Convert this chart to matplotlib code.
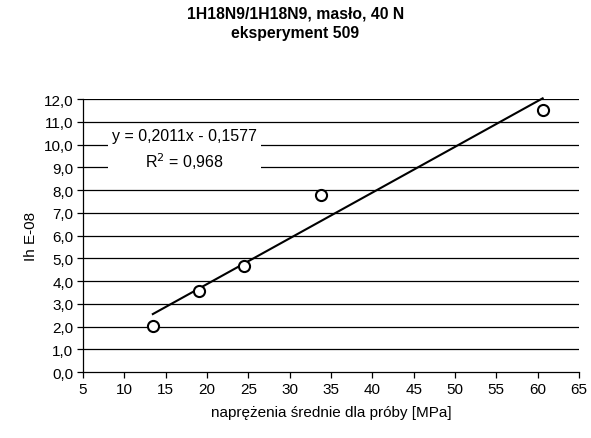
import numpy as np
import matplotlib
matplotlib.use("Agg")
import matplotlib.pyplot as plt

plt.rcParams['font.family'] = ['Liberation Sans', 'DejaVu Sans']

# dane pomiarowe
naprezenia = [13.45, 19.0, 24.5, 33.8, 60.6]
ih = [2.02, 3.56, 4.66, 7.78, 11.52]
a, b = 0.2011, -0.1577

xticks = list(range(5, 70, 5))
yticks = list(range(0, 13))
ytick_labels = ["%d,0" % v for v in yticks]

fig = plt.figure(figsize=(5.91, 4.39), dpi=100)
ax = fig.add_axes([0.1404, 0.1503, 0.8393, 0.6219])

for v in yticks[1:]:
    ax.axhline(v, color='black', lw=0.9, zorder=1)

xs = np.array([min(naprezenia), max(naprezenia)])
ax.plot(xs, a * xs + b, color='black', lw=1.5, zorder=3, clip_on=False)
ax.plot(naprezenia, ih, 'o', mfc='white', mec='black', mew=1.5, ms=8, zorder=4, clip_on=False)

ax.set_xlim(5, 65)
ax.set_ylim(0, 12)
ax.set_xticks(xticks)
ax.set_xticklabels([str(v) for v in xticks], fontsize=11)
ax.set_yticks(yticks)
ax.set_yticklabels(ytick_labels, fontsize=11)
ax.tick_params(direction='out', length=4, width=0.9, pad=3)
ax.spines['top'].set_visible(False)
ax.spines['right'].set_visible(False)
ax.spines['left'].set_linewidth(0.9)
ax.spines['bottom'].set_linewidth(0.9)

ax.set_xlabel("naprężenia średnie dla próby [MPa]", fontsize=11, labelpad=7)
ax.set_ylabel("Ih E-08", fontsize=11, labelpad=4)

ax.text(0.204, 0.815, "y = 0,2011x - 0,1577\nR$^2$ = 0,968", transform=ax.transAxes,
        ha='center', va='center', fontsize=11.5, linespacing=1.4,
        bbox=dict(facecolor='white', edgecolor='none', pad=3), zorder=5)

fig.text(0.5, 0.985, "1H18N9/1H18N9, masło, 40 N\neksperyment 509",
         ha='center', va='top', fontsize=11.3, fontweight='bold', linespacing=1.4)

fig.savefig("out.png", dpi=100)
